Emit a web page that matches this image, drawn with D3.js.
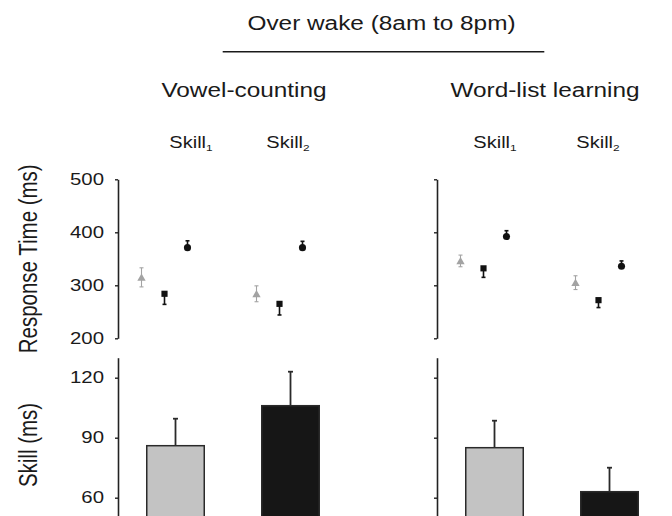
<!DOCTYPE html>
<html>
<head>
<meta charset="utf-8">
<script src="https://cdn.jsdelivr.net/npm/d3@7"></script>
<style>
  html, body { margin: 0; padding: 0; background: #fff; }
  svg { display: block; }
  text { font-family: "Liberation Sans", Arial, Helvetica, sans-serif; fill: #1a1a1a; }
</style>
</head>
<body>
<svg id="chart" width="672" height="516"></svg>
<script>
// ---- data -------------------------------------------------------------
const tasks = ["Vowel-counting", "Word-list learning"];
const skills = ["1", "2"];                 // Skill subscripts
const rtSeries = ["triangle", "square", "circle"];

// response times (ms), order: [task][skill] flattened
const triMean  = [315, 284, 346, 305];
const triErr   = [18, 15, 11, 13];
const sqMean   = [284, 265, 332, 272];
const sqErr    = [20, 21, 17, 14];
const circMean = [371, 371, 392, 336];
const circErr  = [13, 12, 11, 10];

// skill (ms) bars
const skillMean = [86, 106, 85, 63];
const skillErr  = [13.5, 17, 13.5, 12];

const rtTicks = [200, 300, 400, 500];
const skillTicks = [60, 90, 120];

const title = "Over wake (8am to 8pm)";
const rtLabel = "Response Time (ms)";
const skillLabel = "Skill (ms)";

// ---- layout -----------------------------------------------------------
const SX = 1.25;                // horizontal text widening
const svg = d3.select("#chart");

const panelX = d3.scaleBand().domain(tasks).range([118, 756]);
const skillX = d3.scaleBand().domain(skills).range([0, 230]);
const seriesX = d3.scalePoint().domain(rtSeries).range([-34, 12]);

const yRT = d3.scaleLinear().domain([200, 500]).range([338.3, 179.3]);
const ySkill = d3.scaleLinear().domain([50, 130]).range([517.7, 357.7]);

const titleShift = [126, 108];          // task title centre from panel start
const skillLabelShift = [[15.5, -2.5], [0.5, -11.5]];

const seriesStyle = {
  triangle: { color: "#a3a3a3", shape: d3.symbolTriangle, size: 30, up: true, down: true },
  square:   { color: "#111",    shape: d3.symbolSquare,   size: 38, up: false, down: true },
  circle:   { color: "#111",    shape: d3.symbolCircle,   size: 40, up: true, down: false }
};
const seriesData = {
  triangle: [triMean, triErr],
  square:   [sqMean, sqErr],
  circle:   [circMean, circErr]
};
const barFill = ["#c3c3c3", "#161616"];

function stretchedText(g, x, y, str, size, anchor) {
  return g.append("text")
    .attr("transform", `translate(${x},${y}) scale(${SX},1)`)
    .attr("text-anchor", anchor || "middle")
    .attr("font-size", size)
    .text(str);
}

// ---- header -----------------------------------------------------------
stretchedText(svg, 381.5, 29.5, title, 19.5);
svg.append("line")
  .attr("x1", 222.7).attr("x2", 544.3)
  .attr("y1", 51.7).attr("y2", 51.7)
  .attr("stroke", "#1a1a1a").attr("stroke-width", 1.6);

// ---- axis labels ------------------------------------------------------
[[rtLabel, (yRT(200) + yRT(500)) / 2], [skillLabel, 445]].forEach(([lab, cy]) => {
  svg.append("text")
    .attr("transform", `translate(36.5,${cy}) scale(${SX},1) rotate(-90)`)
    .attr("text-anchor", "middle")
    .attr("font-size", 20.5)
    .text(lab);
});

// ---- panels -----------------------------------------------------------
tasks.forEach((task, ti) => {
  const x0 = panelX(task);
  const g = svg.append("g").attr("transform", `translate(${x0},0)`);

  stretchedText(g, titleShift[ti], 97, task, 19.5);

  skills.forEach((s, si) => {
    const cx = skillX(s) + skillX.bandwidth() / 2 + skillLabelShift[ti][si];
    const t = g.append("text")
      .attr("transform", `translate(${cx},148.3) scale(${SX},1)`)
      .attr("text-anchor", "middle")
      .attr("font-size", 16);
    t.append("tspan").text("Skill");
    t.append("tspan").attr("font-size", 9.5).attr("dy", 3).text(s);
  });

  // axes
  const rtAxis = d3.axisLeft(yRT).tickValues(rtTicks).tickSize(3).tickSizeOuter(0).tickPadding(11);
  const skAxis = d3.axisLeft(ySkill).tickValues(skillTicks).tickSize(3).tickSizeOuter(0).tickPadding(11);
  if (ti > 0) { rtAxis.tickFormat(""); skAxis.tickFormat(""); }

  [rtAxis, skAxis].forEach(ax => {
    const a = g.append("g").call(ax);
    a.select(".domain").attr("stroke", "#222").attr("stroke-width", 1.6);
    a.selectAll(".tick line").attr("stroke", "#222").attr("stroke-width", 1.4);
    a.selectAll(".tick text")
      .attr("font-family", null).attr("font-size", 16.3).attr("fill", "#1a1a1a")
      .attr("x", -14 / SX)
      .attr("transform", `scale(${SX},1)`);
  });
  g.selectAll(".domain").filter(function () { return false; });

  // bars with upper error bars
  skills.forEach((s, si) => {
    const i = ti * 2 + si;
    const bw = skillX.bandwidth() / 2;
    const cx = skillX(s) + skillX.bandwidth() / 2;
    const top = ySkill(skillMean[i]);
    const errTop = ySkill(skillMean[i] + skillErr[i]);
    g.append("line")
      .attr("x1", cx).attr("x2", cx).attr("y1", top).attr("y2", errTop)
      .attr("stroke", "#2a2a2a").attr("stroke-width", 1.8);
    g.append("line")
      .attr("x1", cx - 2.5).attr("x2", cx + 2.5).attr("y1", errTop).attr("y2", errTop)
      .attr("stroke", "#2a2a2a").attr("stroke-width", 1.8);
    g.append("rect")
      .attr("x", cx - bw / 2).attr("width", bw)
      .attr("y", top).attr("height", ySkill(50) - top)
      .attr("fill", barFill[si])
      .attr("stroke", "#2a2a2a").attr("stroke-width", 1.5);
  });

  // response-time markers
  skills.forEach((s, si) => {
    const i = ti * 2 + si;
    const base = skillX(s) + skillX.bandwidth() / 2;
    rtSeries.forEach(key => {
      const st = seriesStyle[key];
      const [mean, err] = seriesData[key];
      const x = base + seriesX(key);
      const y = yRT(mean[i]);
      const yHi = st.up ? yRT(mean[i] + err[i]) : y;
      const yLo = st.down ? yRT(mean[i] - err[i]) : y;
      const lw = key === "triangle" ? 1.1 : 1.6;
      g.append("line").attr("x1", x).attr("x2", x).attr("y1", yHi).attr("y2", yLo)
        .attr("stroke", st.color).attr("stroke-width", lw);
      [st.up ? yHi : null, st.down ? yLo : null].forEach(yc => {
        if (yc === null) return;
        g.append("line").attr("x1", x - 2).attr("x2", x + 2).attr("y1", yc).attr("y2", yc)
          .attr("stroke", st.color).attr("stroke-width", lw);
      });
      g.append("path")
        .attr("transform", `translate(${x},${y + (key === "triangle" ? 1 : 0)})`)
        .attr("d", d3.symbol().type(st.shape).size(st.size)())
        .attr("fill", st.color);
    });
  });
});
</script>
</body>
</html>
